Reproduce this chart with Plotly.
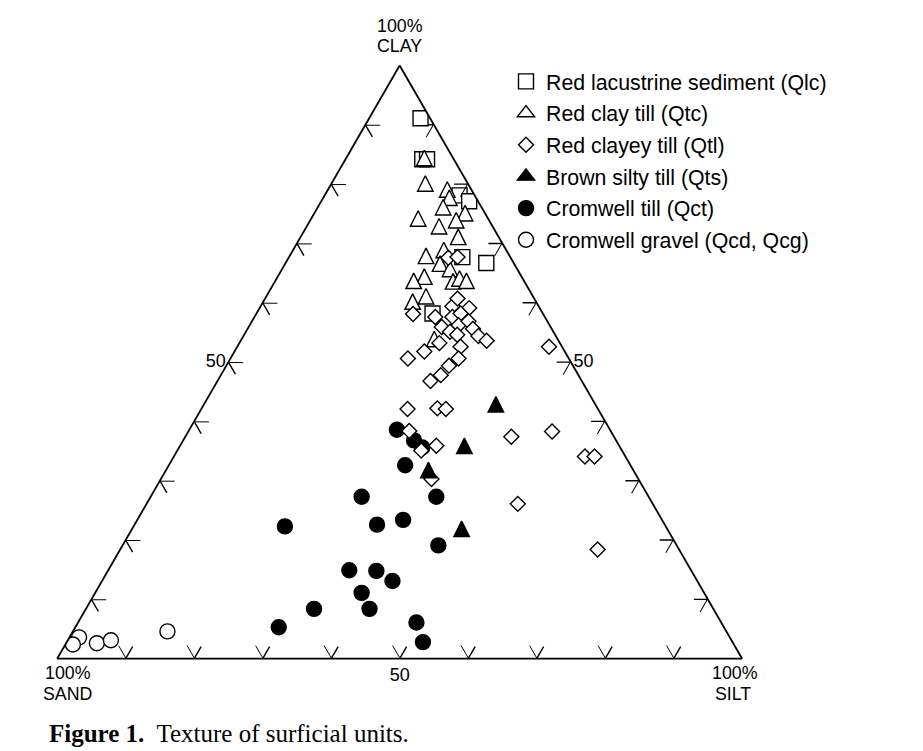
import plotly.graph_objects as go

# ---------------- data (percent clay / silt / sand) ----------------
tick_values = [10, 20, 30, 40, 50, 60, 70, 80, 90]
tick_text = ["", "", "", "", "50", "", "", "", ""]

qlc_clay = [91.1, 84.2, 84.2, 78.1, 77.1, 67.7, 66.7, 58.2]
qlc_silt = [7.5, 11.2, 11.9, 19.7, 21.6, 25.3, 29.3, 25.7]
qlc_sand = [1.4, 4.6, 3.9, 2.2, 1.3, 7.0, 4.0, 16.1]

qtc_clay = [84.4, 80.1, 79.1, 77.7, 76.1, 75.1, 74.2, 72.9, 73.9, 71.1, 67.9,
            68.9, 66.6, 65.7, 64.4, 63.7, 63.6, 64.1, 63.7, 60.2, 61.1, 53.9]
qtc_silt = [11.4, 13.7, 17.4, 18.4, 18.3, 22.0, 15.6, 19.3, 21.3, 23.0, 19.9,
            22.0, 22.6, 24.5, 21.4, 20.2, 26.0, 26.7, 27.9, 21.8, 23.3, 28.1]
qtc_sand = [4.2, 6.2, 3.5, 3.9, 5.6, 2.9, 10.2, 7.8, 4.8, 5.9, 12.2,
            9.1, 10.8, 9.8, 14.2, 16.1, 10.4, 9.2, 8.4, 18.0, 15.6, 18.0]

qtl_clay = [58.1, 57.6, 59.4, 60.7, 59.1, 57.6, 58.2, 55.9, 56.2, 56.9, 55.1,
            55.6, 54.4, 53.6, 54.6, 53.2, 52.6, 50.6, 49.4, 47.8, 46.8, 51.8,
            50.6, 52.6, 42.1, 42.2, 42.1, 38.4, 35.1, 35.9, 37.4, 38.3, 34.1,
            34.1, 26.1, 18.4, 30.3, 67.6, 67.7]
qtl_silt = [22.9, 26.4, 28.0, 28.1, 30.6, 28.9, 29.8, 28.2, 30.5, 31.6, 29.8,
            32.9, 34.3, 35.9, 31.1, 29.2, 32.6, 33.3, 32.5, 32.1, 31.1, 27.7,
            25.9, 45.5, 30.1, 34.4, 35.7, 32.2, 35.6, 37.4, 47.6, 53.1, 60.0,
            61.4, 54.2, 69.7, 39.5, 23.3, 24.6]
qtl_sand = [19.0, 16.0, 12.6, 11.2, 10.3, 13.5, 12.0, 15.9, 13.3, 11.5, 15.1,
            11.5, 11.3, 10.5, 14.3, 17.6, 14.8, 16.1, 18.1, 20.1, 22.1, 20.5,
            23.5, 1.9, 27.8, 23.4, 22.2, 29.4, 29.3, 26.7, 15.0, 8.6, 5.9,
            4.5, 19.7, 11.9, 30.2, 9.1, 7.7]

qts_clay = [42.9, 35.9, 31.8, 21.9]
qts_silt = [42.6, 41.5, 38.3, 48.1]
qts_sand = [14.5, 22.6, 29.9, 30.0]

qct_clay = [38.6, 36.8, 35.6, 32.6, 27.3, 27.3, 22.3, 22.6, 23.4, 19.1,
            14.9, 14.8, 13.1, 11.1, 8.4, 8.4, 5.3, 6.1, 2.8]
qct_silt = [30.3, 33.7, 35.5, 34.5, 30.8, 41.7, 22.1, 35.4, 38.8, 46.1,
            35.2, 39.2, 42.4, 38.9, 33.3, 41.4, 29.7, 49.4, 52.0]
qct_sand = [31.1, 29.5, 28.9, 32.9, 41.9, 31.0, 55.6, 42.0, 37.8, 34.8,
            49.9, 46.0, 44.5, 50.0, 58.3, 50.2, 65.0, 44.5, 45.2]

qcg_clay = [3.1, 3.6, 2.4, 2.6, 3.1, 4.6]
qcg_silt = [0.9, 1.4, 1.1, 4.5, 6.3, 13.8]
qcg_sand = [96.0, 95.0, 96.5, 92.9, 90.6, 81.6]

# ---------------- styling ----------------
W, H = 923, 751
SANS = "Liberation Sans, Arial, Helvetica, sans-serif"
SERIF = "Liberation Serif, Times New Roman, serif"
TICK_LEN_PX = 14
SIDE_PX = 685.0
L = TICK_LEN_PX / SIDE_PX * 100.0  # second tick arm length in data units
TRI = 15.5  # triangle marker size (equal width/height)
OUTLINE = dict(color="black", width=1.4)

cx = 399.65
base_y = 658.7
tri_h = SIDE_PX * 3 ** 0.5 / 2
dom_x = [(cx - SIDE_PX / 2) / W, (cx + SIDE_PX / 2) / W]
dom_y = [(H - base_y) / H, (H - base_y + tri_h) / H]

fig = go.Figure()

def add_series(name, clay, silt, sand, rank, show=True, **mk):
    fig.add_trace(go.Scatterternary(
        a=clay, b=sand, c=silt, mode="markers", name=name,
        legendrank=rank, legendgroup=name, showlegend=show,
        marker=dict(line=OUTLINE, **mk),
        hoverinfo="skip",
    ))

def add_legend_only(name, rank, **mk):
    fig.add_trace(go.Scatterternary(
        a=[None], b=[None], c=[None], mode="markers", name=name,
        legendrank=rank, legendgroup=name, showlegend=True,
        marker=dict(line=OUTLINE, **mk), hoverinfo="skip",
    ))

# extra arm of each tick mark (second grid direction)
ta, tb, tc = [], [], []
for v in tick_values:
    ta += [v, v - L, None]; tb += [100 - v, 100 - v, None]; tc += [0, L, None]
    ta += [0, L, None]; tb += [100 - v, 100 - v - L, None]; tc += [v, v, None]
    ta += [v, v, None]; tb += [0, L, None]; tc += [100 - v, 100 - v - L, None]
fig.add_trace(go.Scatterternary(a=ta, b=tb, c=tc, mode="lines",
                                line=dict(color="black", width=1.4),
                                showlegend=False, hoverinfo="skip"))

tri_style = dict(symbol="arrow-down", angle=180, standoff=TRI / 2, size=TRI)

add_series("Red lacustrine sediment (Qlc)", qlc_clay, qlc_silt, qlc_sand, 1,
           symbol="square", size=15, color="white")
add_series("Red clay till (Qtc)", qtc_clay, qtc_silt, qtc_sand, 2, show=False,
           color="white", **tri_style)
add_series("Cromwell till (Qct)", qct_clay, qct_silt, qct_sand, 5,
           symbol="circle", size=15, color="black")
add_series("Cromwell gravel (Qcd, Qcg)", qcg_clay, qcg_silt, qcg_sand, 6,
           symbol="circle", size=15, color="white")
add_series("Red clayey till (Qtl)", qtl_clay, qtl_silt, qtl_sand, 3,
           symbol="diamond", size=11.5, color="white")
add_series("Brown silty till (Qts)", qts_clay, qts_silt, qts_sand, 4, show=False,
           color="black", **tri_style)
add_legend_only("Red clay till (Qtc)", 2, symbol="triangle-up", size=15, color="white")
add_legend_only("Brown silty till (Qts)", 4, symbol="triangle-up", size=15, color="black")

axis_common = dict(
    tickmode="array", tickvals=tick_values, ticktext=tick_text,
    ticks="inside", ticklen=TICK_LEN_PX, tickwidth=1.4, tickcolor="black",
    showline=True, linecolor="black", linewidth=1.8,
    showgrid=False, tickfont=dict(family=SANS, size=18, color="black"),
    title=dict(text=""), min=0,
)

def label(text, x, y, size=17.8, family=SANS, xanchor="center"):
    return dict(text=text, x=x / W, y=(H - y) / H, xref="paper", yref="paper",
                xanchor=xanchor, yanchor="middle", showarrow=False,
                font=dict(family=family, size=size, color="black"), align="center")

fig.update_layout(
    width=W, height=H,
    margin=dict(l=0, r=0, t=0, b=0),
    paper_bgcolor="white",
    font=dict(family=SANS, color="black"),
    ternary=dict(
        sum=100, bgcolor="white",
        domain=dict(x=dom_x, y=dom_y),
        aaxis=axis_common, baxis=axis_common, caxis=axis_common,
    ),
    showlegend=True,
    legend=dict(
        x=506 / W, xanchor="left", y=(H - 61) / H, yanchor="top",
        font=dict(family=SANS, size=21.3, color="black"),
        bgcolor="rgba(0,0,0,0)", tracegroupgap=1,
        itemclick=False, itemdoubleclick=False,
    ),
    annotations=[
        label("100%", cx, 25.5),
        label("CLAY", cx, 46.5),
        label("100%", 67.5, 673),
        label("SAND", 67, 694),
        label("100%", 734.5, 673),
        label("SILT", 733, 694),
        label("<b>Figure 1.</b>  Texture of surficial units.", 47, 733, size=25,
              family=SERIF, xanchor="left"),
    ],
)

fig.write_html(
    "out.html",
    config={"displayModeBar": False},
    post_script="document.body.style.margin='0';document.body.style.padding='0';",
)
